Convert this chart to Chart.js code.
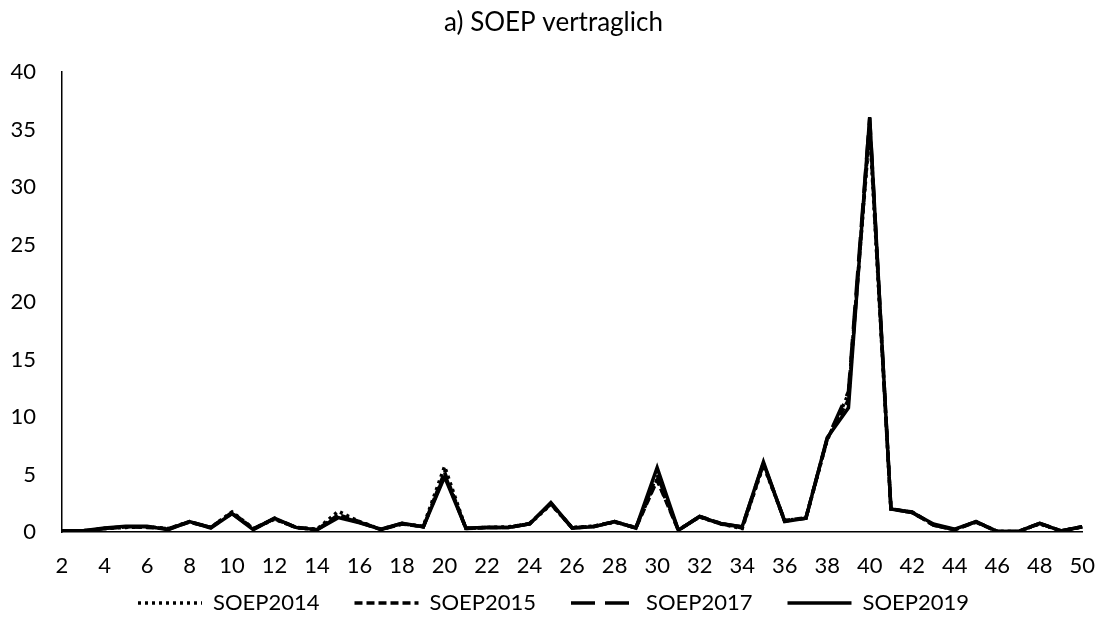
<!DOCTYPE html>
<html>
<head>
<meta charset="utf-8">
<script src="https://cdn.jsdelivr.net/npm/chart.js@4"></script>
<style>
  html, body { margin: 0; padding: 0; background: #fff; }
  #wrap { width: 1108px; height: 634px; }
</style>
</head>
<body>
<div id="wrap"><canvas id="soepChart" width="1108" height="634"></canvas></div>
<script>
// categories 2..50
const categories = [2,3,4,5,6,7,8,9,10,11,12,13,14,15,16,17,18,19,20,21,22,23,24,25,26,27,28,29,30,31,32,33,34,35,36,37,38,39,40,41,42,43,44,45,46,47,48,49,50];

const soep2014 = [0.1,0.1,0.3,0.4,0.45,0.3,0.9,0.4,1.75,0.3,1.1,0.4,0.25,1.8,0.9,0.25,0.7,0.5,5.7,0.3,0.4,0.45,0.7,2.4,0.4,0.5,0.85,0.4,4.6,0.2,1.3,0.7,0.3,5.8,1.0,1.2,8.0,12.0,35.0,2.0,1.7,0.6,0.2,0.9,0.05,0.05,0.7,0.1,0.45];
const soep2015 = [0.1,0.1,0.3,0.45,0.4,0.3,0.85,0.4,1.7,0.3,1.15,0.4,0.2,1.5,0.9,0.2,0.7,0.45,5.2,0.3,0.4,0.4,0.75,2.45,0.35,0.5,0.9,0.35,4.5,0.15,1.35,0.75,0.35,5.9,1.0,1.25,8.1,11.5,35.5,2.0,1.75,0.6,0.2,0.85,0.05,0.05,0.75,0.1,0.45];
const soep2017 = [0.1,0.1,0.3,0.45,0.45,0.25,0.9,0.4,1.6,0.25,1.2,0.4,0.2,1.35,0.85,0.2,0.75,0.45,5.0,0.35,0.4,0.4,0.7,2.5,0.35,0.45,0.9,0.35,5.0,0.15,1.35,0.75,0.45,6.0,0.95,1.2,8.1,12.2,36.0,2.0,1.7,0.6,0.2,0.9,0.05,0.05,0.75,0.1,0.45];
const soep2019 = [0.1,0.1,0.35,0.5,0.5,0.2,0.9,0.35,1.6,0.2,1.2,0.4,0.2,1.25,0.8,0.25,0.75,0.45,4.8,0.35,0.4,0.4,0.7,2.55,0.35,0.45,0.9,0.35,5.6,0.15,1.35,0.7,0.45,6.1,0.9,1.2,8.2,10.8,36.1,2.0,1.7,0.7,0.25,0.9,0.05,0.05,0.75,0.1,0.45];

const yTicks = [0,5,10,15,20,25,30,35,40];

const FONT = 'Lato, "Open Sans", sans-serif';
const LINE_W = 3.5;

function lineSet(label, data, dash) {
    return {
        label: label,
        data: data,
        borderColor: '#000',
        backgroundColor: '#000',
        borderWidth: LINE_W,
        borderDash: dash,
        pointRadius: 0,
        pointStyle: 'line',
        tension: 0
    };
}

// move title / legend to where the reference has them
const boxNudge = {
    id: 'boxNudge',
    afterLayout(chart) {
        const t = chart.titleBlock;
        if (t) { t.left += 10; t.right += 10; }
        const l = chart.legend;
        if (l) {
            l.left += 10; l.right += 10;
            l.top = 557; l.bottom = 634;
            l.height = l.bottom - l.top;
        }
    }
};

function initializeSoepChart() {
    const ctx = document.getElementById('soepChart').getContext('2d');
    new Chart(ctx, {
        type: 'line',
        data: {
            labels: categories,
            datasets: [
                lineSet('SOEP2014', soep2014, [3, 4]),
                lineSet('SOEP2015', soep2015, [8, 4]),
                lineSet('SOEP2017', soep2017, [24, 10]),
                lineSet('SOEP2019', soep2019, [])
            ]
        },
        plugins: [boxNudge],
        options: {
            responsive: false,
            animation: false,
            layout: { padding: { left: 0, right: 21, top: 0, bottom: 0 } },
            scales: {
                x: {
                    offset: false,
                    grid: { display: false },
                    border: { display: true, color: '#000', width: 1.5 },
                    ticks: {
                        autoSkip: false,
                        maxRotation: 0,
                        padding: 13,
                        color: '#000',
                        font: { family: FONT, size: 22 },
                        callback: function(value, index) {
                            const c = categories[index];
                            return c % 2 === 0 ? String(c) : '';
                        }
                    },
                    afterFit: s => { s.height = 50; }
                },
                y: {
                    min: 0,
                    max: 40,
                    grid: { display: false },
                    border: { display: true, color: '#000', width: 1.5 },
                    afterBuildTicks: s => { s.ticks = yTicks.map(v => ({ value: v })); },
                    ticks: {
                        padding: 18,
                        color: '#000',
                        font: { family: FONT, size: 22 }
                    },
                    afterFit: s => { s.width = 62; }
                }
            },
            plugins: {
                title: {
                    display: true,
                    text: 'a) SOEP vertraglich',
                    color: '#000',
                    font: { family: FONT, size: 26, weight: 'normal' },
                    padding: { top: 7, bottom: 34 }
                },
                legend: {
                    position: 'bottom',
                    maxHeight: 52,
                    labels: {
                        color: '#000',
                        font: { family: FONT, size: 22 },
                        usePointStyle: true,
                        pointStyle: 'line',
                        pointStyleWidth: 64,
                        boxWidth: 64,
                        padding: 35,
                        generateLabels: function(chart) {
                            const items = Chart.defaults.plugins.legend.labels.generateLabels(chart);
                            items.forEach(item => {
                                const ds = chart.data.datasets[item.datasetIndex];
                                item.lineDash = ds.borderDash;
                                item.lineWidth = LINE_W;
                                item.strokeStyle = '#000';
                            });
                            return items;
                        }
                    }
                },
                tooltip: { enabled: false }
            }
        }
    });
}

document.addEventListener('DOMContentLoaded', initializeSoepChart);
</script>
</body>
</html>
